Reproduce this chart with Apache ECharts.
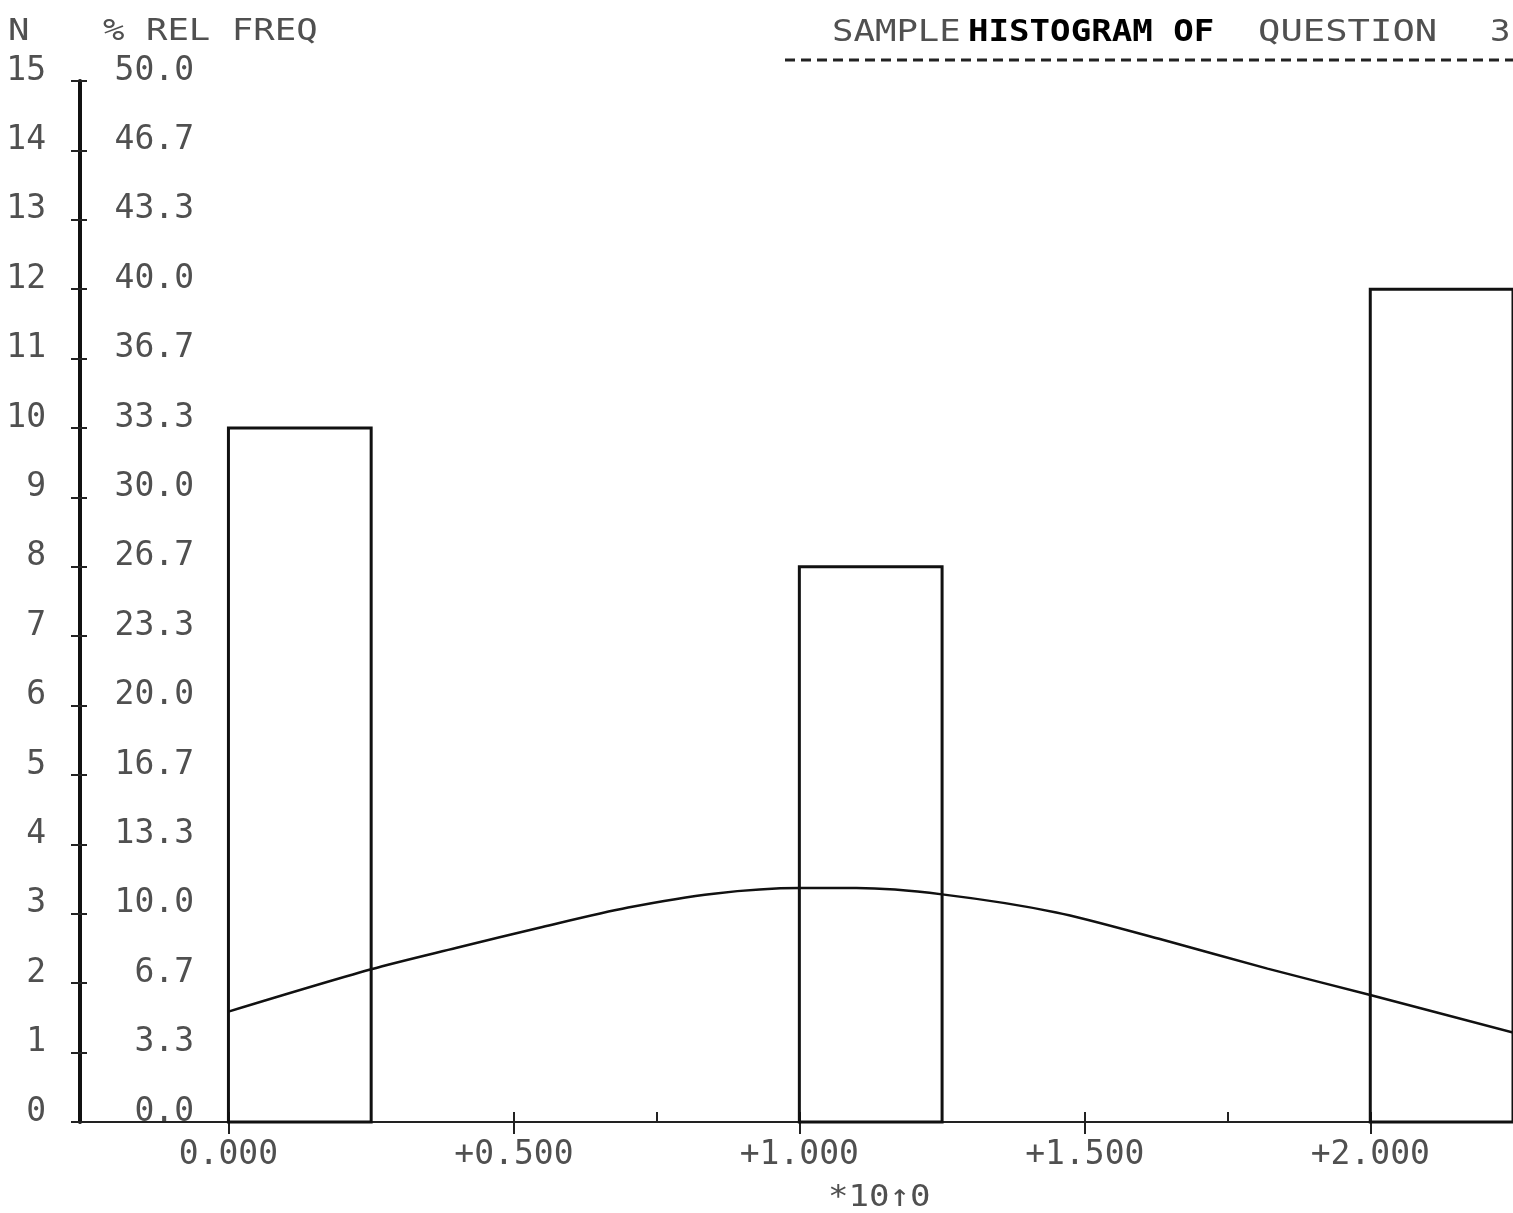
<!DOCTYPE html>
<html>
<head>
<meta charset="utf-8">
<script src="https://cdn.jsdelivr.net/npm/echarts@6/dist/echarts.min.js"></script>
<style>
html,body{margin:0;padding:0;background:#fff;}
#chart{width:1513px;height:1213px;}
</style>
</head>
<body>
<div id="chart"></div>
<script>
// ---- data ----
const binStart = [0, 1, 2];
const binEnd = [0.25, 1.25, 2.25];
const counts = [10, 8, 12];

const curveX = [0, 0.25, 0.40, 0.55, 0.70, 0.85, 1.00, 1.10, 1.25, 1.45, 1.63, 1.82, 2.00, 2.25];
const curveY = [1.59, 2.20, 2.51, 2.81, 3.09, 3.29, 3.37, 3.37, 3.28, 3.02, 2.64, 2.21, 1.83, 1.29];

const xTickValues = [0, 0.5, 1, 1.5, 2];
const xLabels = ['0.000', '+0.500', '+1.000', '+1.500', '+2.000'];
const xMinorTicks = [0.25, 0.75, 1.25, 1.75];
const nLabels = ['0','1','2','3','4','5','6','7','8','9','10','11','12','13','14','15'];
const pctLabels = ['0.0','3.3','6.7','10.0','13.3','16.7','20.0','23.3','26.7','30.0','33.3','36.7','40.0','43.3','46.7','50.0'];

// ---- chart ----
const FONT = '"DejaVu Sans Mono", "Liberation Mono", monospace';
const LABEL_COLOR = '#505050';
const chart = echarts.init(document.getElementById('chart'), null, {renderer: 'canvas'});

const bars = binStart.map((s, i) => [s, binEnd[i], counts[i]]);
const curve = curveX.map((x, i) => [x, curveY[i]]);

const option = {
  backgroundColor: '#ffffff',
  animation: false,
  grid: {left: 80, right: -1, top: 81, bottom: 91, containLabel: false},
  xAxis: [{
    type: 'value', min: -0.26, max: 2.25,
    splitLine: {show: false},
    axisLine: {show: true, onZero: false, lineStyle: {color: '#222', width: 2}},
    axisTick: {show: true, customValues: xTickValues, length: 12, lineStyle: {color: '#222', width: 2}},
    axisLabel: {
      customValues: xTickValues,
      formatter: v => { const i = xTickValues.findIndex(t => Math.abs(t - v) < 1e-6); return i >= 0 ? xLabels[i] : ''; },
      fontFamily: FONT, fontSize: 33, color: LABEL_COLOR, margin: 17
    }
  }, {
    type: 'value', min: -0.26, max: 2.25, position: 'bottom',
    splitLine: {show: false},
    axisLine: {show: false, onZero: false},
    axisLabel: {show: false},
    axisTick: {show: true, inside: true, customValues: xTickValues.concat(xMinorTicks), length: 10, lineStyle: {color: '#222', width: 2}}
  }],
  yAxis: [{
    type: 'value', min: 0, max: 15, interval: 1, position: 'left',
    splitLine: {show: false},
    axisLine: {show: true, onZero: false, lineStyle: {color: '#111', width: 4}},
    axisTick: {show: true, length: 9, lineStyle: {color: '#222', width: 2}},
    axisLabel: {
      formatter: v => nLabels[Math.round(v)],
      fontFamily: FONT, fontSize: 33, color: LABEL_COLOR, margin: 34,
      verticalAlign: 'bottom', lineHeight: 20
    }
  }, {
    type: 'value', min: 0, max: 15, interval: 1, position: 'left', offset: 0,
    splitLine: {show: false},
    axisLine: {show: false, onZero: false},
    axisTick: {show: true, inside: true, length: 7, lineStyle: {color: '#222', width: 2}},
    axisLabel: {
      inside: true, align: 'right',
      formatter: v => pctLabels[Math.round(v)],
      fontFamily: FONT, fontSize: 33, color: LABEL_COLOR, margin: 114,
      verticalAlign: 'bottom', lineHeight: 20
    }
  }],
  graphic: [
    {type: 'text', left: 8, top: 16, style: {text: 'N', font: '31px ' + FONT, fill: LABEL_COLOR}, scaleX: 1.15},
    {type: 'text', left: 103, top: 16, style: {text: '% REL FREQ', font: '31px ' + FONT, fill: LABEL_COLOR}, scaleX: 1.15},
    {type: 'text', left: 832, top: 17, style: {text: 'SAMPLE', font: '31px ' + FONT, fill: LABEL_COLOR}, scaleX: 1.15},
    {type: 'text', left: 968, top: 17, style: {text: 'HISTOGRAM OF', font: 'bold 31px ' + FONT, fill: '#000'}, scaleX: 1.1},
    {type: 'text', left: 1258, top: 17, style: {text: 'QUESTION', font: '31px ' + FONT, fill: LABEL_COLOR}, scaleX: 1.2},
    {type: 'text', left: 1490, top: 17, style: {text: '3', font: '31px ' + FONT, fill: LABEL_COLOR}, scaleX: 1.1},
    {type: 'line', shape: {x1: 785, y1: 60, x2: 1513, y2: 60}, style: {stroke: '#222', lineWidth: 3, lineDash: [10, 6]}},
    {type: 'text', left: 828, top: 1182, style: {text: '*10\u21910', font: '31px ' + FONT, fill: LABEL_COLOR}, scaleX: 1.1}
  ],
  series: [{
    type: 'custom',
    xAxisIndex: 0, yAxisIndex: 0,
    data: bars,
    clip: false,
    renderItem: function (params, api) {
      const p0 = api.coord([api.value(0), api.value(2)]);
      const p1 = api.coord([api.value(1), 0]);
      return {
        type: 'rect',
        shape: {x: p0[0], y: p0[1], width: p1[0] - p0[0], height: p1[1] - p0[1]},
        style: {fill: 'none', stroke: '#111', lineWidth: 3}
      };
    }
  }, {
    type: 'line',
    xAxisIndex: 0, yAxisIndex: 0,
    data: curve,
    smooth: 0.3,
    showSymbol: false,
    lineStyle: {color: '#111', width: 2.5}
  }]
};
chart.setOption(option);
</script>
</body>
</html>
